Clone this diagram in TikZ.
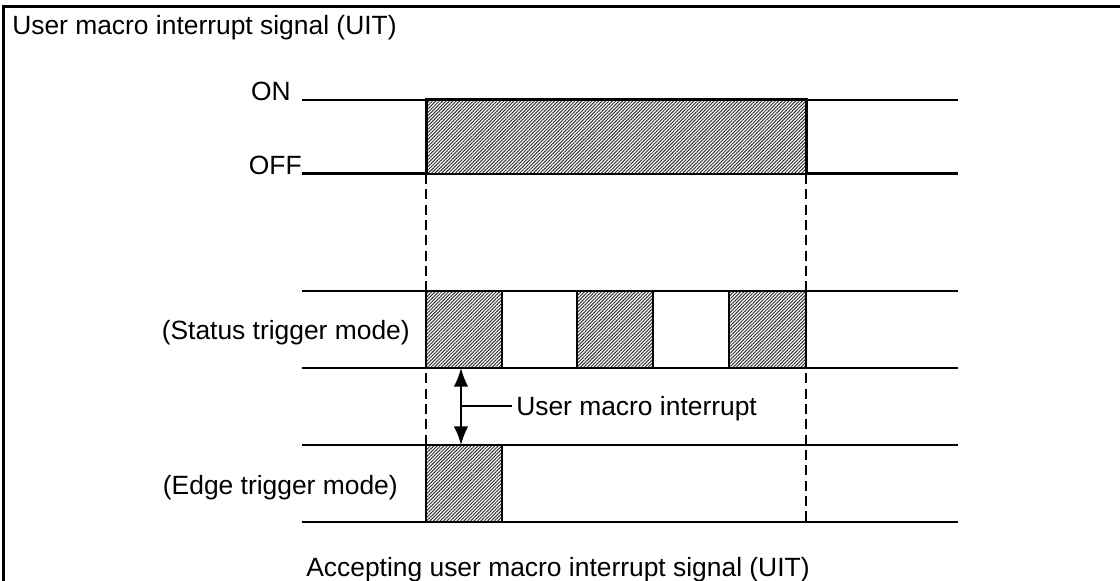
\documentclass[tikz,border=0pt]{standalone}
\usepackage{fontspec}
\setmainfont{Liberation Sans}
\usetikzlibrary{patterns.meta,arrows.meta}
\begin{document}
\begin{tikzpicture}[x=0.75pt,y=-0.75pt,
  lbl/.style={inner sep=0pt,font=\fontsize{19.8pt}{23pt}\selectfont},
  sig/.style={line width=1.5pt},
  sigthick/.style={line width=2.25pt},
  hatch/.style={pattern={Lines[angle=45,distance=1.8pt,line width=0.75pt]},pattern color=black!80},
  pulse/.style={hatch,draw=black,line width=1.5pt},
  guide/.style={line width=1.2pt,dash pattern=on 7.5pt off 4pt},
  frame/.style={line width=2.25pt}]
\useasboundingbox (0,0) rectangle (1120,581);
% frame
\draw[frame] (3,581) -- (3,7) -- (1120,7);
% title
\node[lbl,anchor=base west] (title) at (12,35) {User macro interrupt signal (UIT)};
% upper signal
\node[lbl,anchor=base east] (on) at (291,101) {ON};
\node[lbl,anchor=base east] (off) at (302,175) {OFF};
\coordinate (onL) at (302,100);
\coordinate (onR) at (958,100);
\fill[hatch] (426,100) rectangle (806,174);
\draw[line width=1pt] (426,174) -- (806,174);
\draw[sig] (onL) -- (426,100);
\draw[sig] (806,100) -- (onR);
\draw[sigthick] (302,174) -- (426,174) -- (426,100) -- (806,100) -- (806,174) -- (958,174);
% guides
\draw[guide] (426,174) -- (426,522);
\draw[guide] (806,174) -- (806,522);
% status trigger
\node[lbl,anchor=base east] (st) at (410,339) {(Status trigger mode)};
\draw[sig] (302,291) -- (958,291);
\draw[sig] (302,368) -- (958,368);
\draw[pulse] (426,291) rectangle (502,368);
\draw[pulse] (577,291) rectangle (653,368);
\draw[pulse] (729,291) rectangle (806,368);
% edge trigger
\node[lbl,anchor=base east] (et) at (398,494) {(Edge trigger mode)};
\draw[sig] (302,445) -- (958,445);
\draw[sig] (302,522) -- (958,522);
\draw[pulse] (426,445) rectangle (502,522);
% arrow
\coordinate (aT) at (461,368);
\coordinate (aB) at (461,445);
\coordinate (aM) at (461,406);
\draw[line width=1.5pt,{Latex[length=14pt,width=11pt]}-{Latex[length=14pt,width=11pt]}] (aT) -- (aB);
\node[lbl,anchor=base west] (umi) at (516,415) {User macro interrupt};
\draw[line width=1.5pt] (aM) -- ([xshift=-3pt]umi.west |- aM);
% caption
\node[lbl,anchor=base] (cap) at (558,576) {Accepting user macro interrupt signal (UIT)};
\end{tikzpicture}
\end{document}
